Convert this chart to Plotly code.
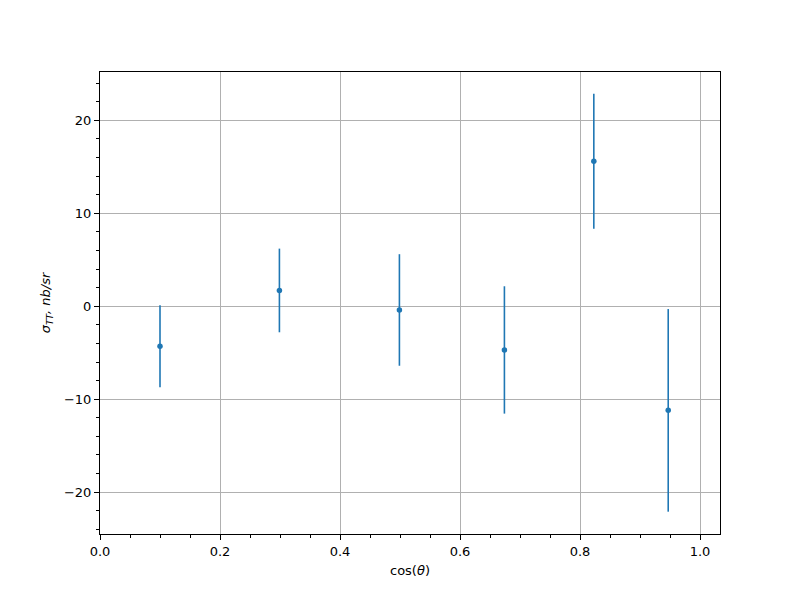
import plotly.graph_objects as go

cos_theta = [0.1, 0.299, 0.499, 0.674, 0.823, 0.947]
sigma_tt = [-4.3, 1.7, -0.4, -4.7, 15.6, -11.2]
sigma_err = [4.4, 4.5, 6.0, 6.85, 7.25, 10.9]

fig = go.Figure()
fig.add_trace(go.Scatter(
    x=cos_theta, y=sigma_tt, mode="markers",
    marker=dict(color="#1f77b4", size=5.5),
    error_y=dict(type="data", array=sigma_err, visible=True,
                 color="#1f77b4", thickness=1.6, width=0),
    showlegend=False,
))

axis_common = dict(
    showline=True, linecolor="black", linewidth=1, mirror=True,
    ticks="outside", ticklen=5, tickwidth=1, tickcolor="black",
    showgrid=True, gridcolor="#b0b0b0", gridwidth=0.8,
    zeroline=False,
    tickfont=dict(family="DejaVu Sans", size=13, color="black"),
)

fig.update_xaxes(
    range=[0, 1.0333], tickmode="array",
    tickvals=[0.0, 0.2, 0.4, 0.6, 0.8, 1.0],
    ticktext=["0.0", "0.2", "0.4", "0.6", "0.8", "1.0"],
    minor=dict(dtick=0.05, tick0=0, ticks="outside", ticklen=3,
               tickcolor="black", showgrid=False),
    title=dict(text="cos(<i>θ</i>)", font=dict(family="DejaVu Sans", size=13, color="black"), standoff=8),
    **axis_common,
)
fig.update_yaxes(
    range=[-24.5, 25.2], tickmode="array",
    tickvals=[-20, -10, 0, 10, 20],
    ticktext=["\u221220", "\u221210", "0", "10", "20"],
    minor=dict(dtick=2, tick0=0, ticks="outside", ticklen=3,
               tickcolor="black", showgrid=False),
    title=dict(text="<i>σ<sub>TT</sub>, nb/sr</i>", font=dict(family="DejaVu Sans", size=13, color="black"), standoff=10),
    **axis_common,
)

fig.update_layout(
    width=800, height=600,
    margin=dict(l=92, r=88, t=64, b=74),
    plot_bgcolor="white", paper_bgcolor="white",
)

fig.write_html("out.html")
